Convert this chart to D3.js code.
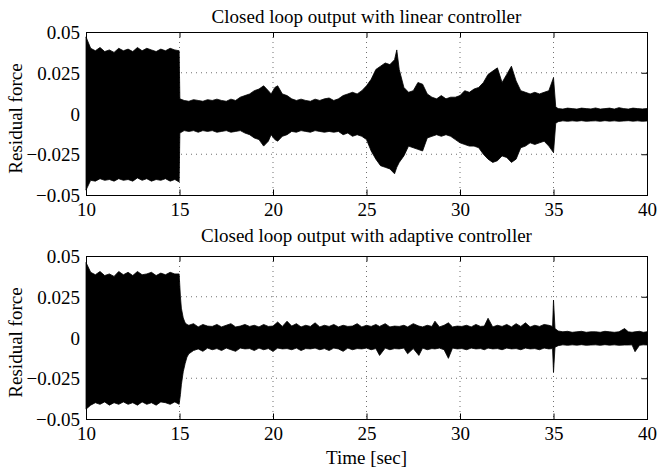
<!DOCTYPE html>
<html>
<head>
<meta charset="utf-8">
<script src="https://cdn.jsdelivr.net/npm/d3@7"></script>
<style>
  html, body { margin: 0; padding: 0; background: #fff; }
  svg text { font-family: "Liberation Serif", "Times New Roman", serif; fill: #000; }
</style>
</head>
<body>
<svg id="chart" width="657" height="467"></svg>
<script>
// ---- Data (envelope of the dense residual-force signal) ----
const xTicks = [10, 15, 20, 25, 30, 35, 40];
const yTicks = [-0.05, -0.025, 0, 0.025, 0.05];
const yTickLabels = ["\u22120.05", "\u22120.025", "0", "0.025", "0.05"];
const titles = ["Closed loop output with linear controller", "Closed loop output with adaptive controller"];

const timeLinear = [10.0,10.25,10.5,10.75,11.0,11.25,11.5,11.75,12.0,12.25,12.5,12.75,13.0,13.25,13.5,13.75,14.0,14.25,14.5,14.75,14.98,
  15.02,15.25,15.5,15.75,16.0,16.25,16.5,16.75,17.0,17.25,17.5,17.75,18.0,18.25,18.5,18.75,19.0,19.25,19.5,19.75,19.9,20.1,20.25,20.5,20.75,
  21.0,21.25,21.5,21.75,22.0,22.25,22.5,22.75,23.0,23.25,23.5,23.75,24.0,24.25,24.5,24.75,25.0,25.25,25.5,25.75,26.0,26.25,26.5,26.62,26.75,
  27.0,27.25,27.5,27.75,28.0,28.25,28.5,28.75,29.0,29.25,29.5,29.75,30.0,30.25,30.5,30.75,31.0,31.25,31.5,31.75,32.0,32.25,32.5,32.75,33.0,
  33.25,33.5,33.75,34.0,34.25,34.5,34.75,35.0,35.12,35.25,35.5,35.75,36.0,36.25,36.5,36.75,37.0,37.25,37.5,37.75,38.0,38.25,38.5,38.75,39.0,
  39.25,39.5,39.75,40.0];
const upperLinear = [0.047,0.040,0.0385,0.0405,0.038,0.039,0.0375,0.040,0.0385,0.0395,0.038,0.0405,0.0385,0.040,0.039,0.038,0.0395,0.0385,0.040,0.039,0.0385,
  0.009,0.008,0.0075,0.0085,0.008,0.0075,0.0085,0.008,0.0088,0.008,0.0075,0.0088,0.008,0.010,0.011,0.012,0.014,0.015,0.017,0.014,0.012,0.016,0.017,0.012,0.011,
  0.009,0.008,0.0088,0.008,0.0075,0.0088,0.008,0.009,0.0095,0.008,0.009,0.011,0.012,0.013,0.012,0.014,0.017,0.021,0.027,0.029,0.031,0.030,0.033,0.039,0.027,
  0.016,0.013,0.014,0.019,0.018,0.012,0.010,0.009,0.011,0.009,0.010,0.010,0.011,0.014,0.013,0.015,0.016,0.019,0.024,0.026,0.028,0.019,0.024,0.029,0.020,
  0.014,0.013,0.012,0.013,0.012,0.013,0.014,0.022,0.004,0.003,0.0027,0.0033,0.003,0.0027,0.0033,0.003,0.0028,0.0034,0.0027,0.003,0.0033,0.0027,0.0036,0.003,0.0027,
  0.0033,0.003,0.0028,0.003];
const lowerLinear = [-0.047,-0.041,-0.0415,-0.040,-0.041,-0.0405,-0.0415,-0.040,-0.041,-0.0405,-0.0415,-0.0395,-0.041,-0.040,-0.0415,-0.0405,-0.041,-0.040,-0.0415,-0.0405,-0.042,
  -0.012,-0.0105,-0.011,-0.0105,-0.0115,-0.0105,-0.011,-0.0105,-0.0115,-0.011,-0.0105,-0.0115,-0.011,-0.0105,-0.012,-0.013,-0.015,-0.016,-0.020,-0.017,-0.013,-0.016,-0.017,-0.014,-0.013,
  -0.011,-0.0115,-0.0105,-0.011,-0.0115,-0.0105,-0.011,-0.0115,-0.011,-0.0115,-0.011,-0.013,-0.012,-0.014,-0.013,-0.014,-0.016,-0.023,-0.028,-0.032,-0.033,-0.034,-0.037,-0.033,-0.030,
  -0.026,-0.020,-0.021,-0.022,-0.023,-0.015,-0.014,-0.013,-0.014,-0.013,-0.014,-0.016,-0.018,-0.019,-0.020,-0.020,-0.021,-0.025,-0.028,-0.030,-0.029,-0.026,-0.027,-0.030,-0.028,
  -0.021,-0.020,-0.018,-0.019,-0.018,-0.017,-0.020,-0.024,-0.006,-0.005,-0.0045,-0.0048,-0.0045,-0.0047,-0.0044,-0.0048,-0.0046,-0.0045,-0.0048,-0.0044,-0.0047,-0.0045,-0.0048,-0.0046,-0.0044,
  -0.0047,-0.0045,-0.0048,-0.0046];

const timeAdaptive = [10.0,10.25,10.5,10.75,11.0,11.25,11.5,11.75,12.0,12.25,12.5,12.75,13.0,13.25,13.5,13.75,14.0,14.25,14.5,14.75,14.98,
  15.05,15.1,15.2,15.3,15.4,15.5,15.75,16.0,16.25,16.5,16.75,17.0,17.25,17.5,17.75,18.0,18.25,18.5,18.75,19.0,19.25,19.5,19.75,20.0,20.25,20.5,20.75,
  21.0,21.25,21.5,21.75,22.0,22.25,22.5,22.75,23.0,23.25,23.5,23.75,24.0,24.25,24.5,24.75,25.0,25.25,25.5,25.7,26.0,26.25,26.5,26.75,
  27.0,27.2,27.5,27.8,28.0,28.25,28.5,28.66,28.9,29.15,29.38,29.6,29.85,30.1,30.35,30.6,30.85,31.1,31.3,31.5,31.75,32.0,32.25,32.5,32.75,33.0,
  33.25,33.5,33.75,34.0,34.25,34.5,34.75,34.95,35.0,35.08,35.25,35.5,35.75,36.0,36.25,36.5,36.75,37.0,37.25,37.5,37.75,38.0,38.25,38.5,38.8,39.0,
  39.2,39.36,39.6,39.8,40.0];
const upperAdaptive = [0.046,0.040,0.0385,0.0405,0.038,0.039,0.0375,0.0405,0.0385,0.040,0.038,0.0405,0.0385,0.039,0.040,0.038,0.0395,0.0385,0.040,0.039,0.039,
  0.025,0.018,0.012,0.009,0.008,0.0075,0.0085,0.0065,0.008,0.007,0.0068,0.008,0.0065,0.0075,0.0085,0.0065,0.007,0.008,0.0068,0.0075,0.0065,0.008,0.0068,0.007,0.0095,0.0068,0.010,
  0.007,0.0085,0.0065,0.0075,0.0068,0.009,0.0065,0.0075,0.0068,0.008,0.0065,0.0075,0.0068,0.007,0.0085,0.0065,0.0075,0.0068,0.008,0.0068,0.0085,0.0065,0.007,0.0068,
  0.0075,0.0065,0.0085,0.007,0.0065,0.0075,0.0068,0.010,0.0065,0.0075,0.009,0.0065,0.007,0.0068,0.0075,0.0065,0.008,0.0068,0.007,0.0118,0.0065,0.0075,0.0068,0.008,0.0065,0.0085,
  0.0068,0.009,0.0065,0.0075,0.0068,0.008,0.0075,0.0068,0.023,0.0055,0.004,0.0035,0.0038,0.0032,0.0035,0.0038,0.0032,0.0035,0.0035,0.0032,0.0038,0.0035,0.0032,0.0035,0.0055,0.0035,
  0.0032,0.0035,0.0038,0.0032,0.0035];
const lowerAdaptive = [-0.044,-0.0415,-0.040,-0.041,-0.0395,-0.0415,-0.040,-0.041,-0.0395,-0.041,-0.040,-0.0415,-0.0395,-0.041,-0.040,-0.0415,-0.0395,-0.040,-0.041,-0.0395,-0.041,
  -0.035,-0.029,-0.021,-0.016,-0.012,-0.010,-0.008,-0.007,-0.0085,-0.0065,-0.0075,-0.0068,-0.008,-0.0065,-0.0075,-0.0085,-0.0065,-0.007,-0.0068,-0.008,-0.0065,-0.0075,-0.0068,-0.0085,-0.0065,-0.007,-0.0068,
  -0.0075,-0.0065,-0.008,-0.0068,-0.007,-0.0065,-0.0075,-0.0068,-0.008,-0.0065,-0.007,-0.0085,-0.0065,-0.0075,-0.0068,-0.007,-0.0065,-0.0075,-0.0068,-0.011,-0.0065,-0.0075,-0.0068,-0.007,
  -0.0065,-0.010,-0.0068,-0.011,-0.0065,-0.0075,-0.0068,-0.007,-0.0065,-0.0075,-0.0128,-0.0065,-0.007,-0.0068,-0.0075,-0.0065,-0.007,-0.0068,-0.0075,-0.0065,-0.007,-0.0068,-0.0075,-0.0065,-0.007,-0.0068,
  -0.0075,-0.0065,-0.007,-0.0068,-0.0075,-0.0065,-0.007,-0.0068,-0.0215,-0.006,-0.005,-0.0045,-0.0048,-0.0045,-0.0047,-0.0044,-0.0048,-0.0046,-0.0045,-0.0048,-0.0044,-0.0047,-0.0045,-0.0048,-0.0046,-0.0046,
  -0.0045,-0.0087,-0.0048,-0.0045,-0.0046];

// ---- Layout ----
const svg = d3.select("#chart");
const FONT = 19;
const panels = [
  { top: 32, bottom: 195, title: titles[0], time: timeLinear, upper: upperLinear, lower: lowerLinear, titleY: 23 },
  { top: 256, bottom: 419, title: titles[1], time: timeAdaptive, upper: upperAdaptive, lower: lowerAdaptive, titleY: 242 }
];
const left = 86, right = 647;
const x = d3.scaleLinear().domain([10, 40]).range([left, right]);

panels.forEach((p, idx) => {
  const y = d3.scaleLinear().domain([-0.05, 0.05]).range([p.bottom, p.top]);
  const g = svg.append("g");

  // grid
  const grid = g.append("g").attr("stroke", "#000").attr("stroke-width", 0.8).attr("stroke-dasharray", "1,4").attr("opacity", 0.7);
  xTicks.slice(1, -1).forEach(t => {
    grid.append("line").attr("x1", x(t)).attr("x2", x(t)).attr("y1", p.top).attr("y2", p.bottom);
  });
  yTicks.slice(1, -1).forEach(v => {
    grid.append("line").attr("x1", left).attr("x2", right).attr("y1", y(v)).attr("y2", y(v));
  });

  // signal envelope
  const pts = p.time.map((t, i) => ({ t, hi: p.upper[i], lo: p.lower[i] }));
  const area = d3.area().x(d => x(d.t)).y0(d => y(d.lo)).y1(d => y(d.hi)).curve(d3.curveLinear);
  g.append("path").datum(pts).attr("d", area).attr("fill", "#000").attr("stroke", "#000").attr("stroke-width", 0.8).attr("stroke-linejoin", "miter");

  // axes (ticks inward, box on)
  const tl = 5.5;
  const xb = d3.axisBottom(x).tickValues(xTicks).tickSize(-tl).tickPadding(8).tickFormat(d3.format("d"));
  const xt = d3.axisTop(x).tickValues(xTicks).tickSize(-tl).tickFormat("");
  const yl = d3.axisLeft(y).tickValues(yTicks).tickSize(-tl).tickPadding(6).tickFormat((d, i) => yTickLabels[i]);
  const yr = d3.axisRight(y).tickValues(yTicks).tickSize(-tl).tickFormat("");
  const styleAxis = sel => {
    sel.selectAll("path").attr("stroke", "#000").attr("stroke-width", 1);
    sel.selectAll("line").attr("stroke", "#000").attr("stroke-width", 1);
    sel.selectAll("text").attr("font-family", "Liberation Serif, Times New Roman, serif").attr("font-size", FONT).attr("fill", "#000");
    sel.attr("font-size", FONT);
  };
  g.append("g").attr("transform", `translate(0,${p.bottom})`).call(xb).call(styleAxis)
    .selectAll("text").attr("dy", "0.71em");
  g.append("g").attr("transform", `translate(0,${p.top})`).call(xt).call(styleAxis);
  g.append("g").attr("transform", `translate(${left},0)`).call(yl).call(styleAxis)
    .selectAll("text").attr("dy", "0.35em");
  g.append("g").attr("transform", `translate(${right},0)`).call(yr).call(styleAxis);
  svg.selectAll(".domain").attr("shape-rendering", "crispEdges");

  // title
  svg.append("text").attr("x", (left + right) / 2).attr("y", p.titleY)
    .attr("text-anchor", "middle").attr("font-size", FONT).text(p.title);

  // y label
  const cy = (p.top + p.bottom) / 2 + 5;
  svg.append("text").attr("transform", `translate(22,${cy}) rotate(-90)`)
    .attr("text-anchor", "middle").attr("font-size", FONT).text("Residual force");
});

svg.append("text").attr("x", (left + right) / 2).attr("y", 464)
  .attr("text-anchor", "middle").attr("font-size", FONT).text("Time [sec]");
</script>
</body>
</html>
